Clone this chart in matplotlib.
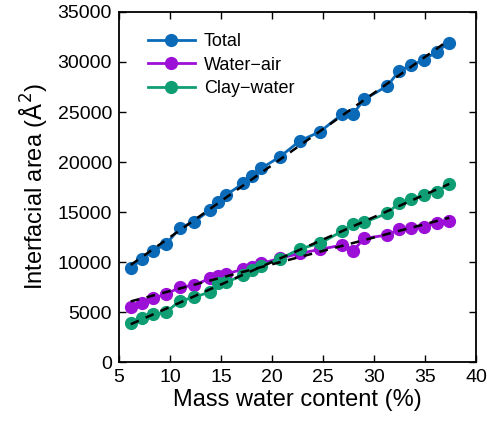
import numpy as np
import matplotlib.pyplot as plt

plt.rcParams['font.family'] = ['Liberation Sans', 'DejaVu Sans']

# Mass water content (%)
water_content = [6.15, 7.23, 8.36, 9.6, 10.98, 12.38, 13.92, 14.68, 15.49, 17.19,
                 18.07, 18.95, 20.78, 22.75, 24.7, 26.9, 27.94, 29.05, 31.3, 32.48,
                 33.63, 34.87, 36.15, 37.38]

# Interfacial areas (Å^2)
total = [9370, 10300, 11130, 11770, 13430, 14030, 15200, 15970, 16700, 17870,
         18630, 19370, 20530, 22130, 23030, 24800, 24800, 26270, 27600, 29130,
         29670, 30200, 31030, 31930]
water_air = [5530, 5870, 6370, 6800, 7470, 7700, 8370, 8650, 8800, 9300,
             9530, 9870, 10370, 10870, 11270, 11700, 11130, 12370, 12700, 13300,
             13430, 13530, 13930, 14100]
clay_water = [3870, 4430, 4770, 4970, 6130, 6470, 7030, 7870, 7970, 8700,
              9200, 9630, 10300, 11330, 11870, 13100, 13800, 13970, 14870, 15930,
              16270, 16700, 17030, 17830]

series = [('Total', total, '#0a6ab8'),
          ('Water\u2212air', water_air, '#9b0fd6'),
          ('Clay\u2212water', clay_water, '#0f9e74')]

fig = plt.figure(figsize=(4.87, 4.28), dpi=100)
ax = fig.add_axes([0.2444, 0.154, 0.733, 0.818])

x = np.array(water_content)
for name, vals, col in series:
    ax.plot(x, vals, '-o', color=col, lw=2, ms=8.5, mec=col, mew=1, label=name, zorder=2)

# linear fits
for name, vals, col in series:
    k, b = np.polyfit(x, vals, 1)
    xf = np.array([x.min(), x.max()])
    ax.plot(xf, k * xf + b, '--', color='black', lw=1.8, dashes=(3.5, 3), zorder=3)

ax.set_xlim(5, 40)
ax.set_ylim(0, 35000)
ax.set_xticks(range(5, 41, 5))
ax.set_yticks(range(0, 35001, 5000))
ax.tick_params(direction='in', top=True, right=True, length=5, width=1, labelsize=14, pad=5)
for s in ax.spines.values():
    s.set_linewidth(1.3)

ax.set_xlabel('Mass water content (%)', fontsize=17, labelpad=2)
ax.set_ylabel('Interfacial area ($\\mathrm{\\AA}^2$)', fontsize=17, labelpad=6)

ax.legend(loc='upper left', frameon=False, fontsize=13, handlelength=2.6,
          handletextpad=0.5, borderaxespad=0.3, labelspacing=0.35,
          bbox_to_anchor=(0.045, 0.975))

fig.savefig('out.png', dpi=100)
